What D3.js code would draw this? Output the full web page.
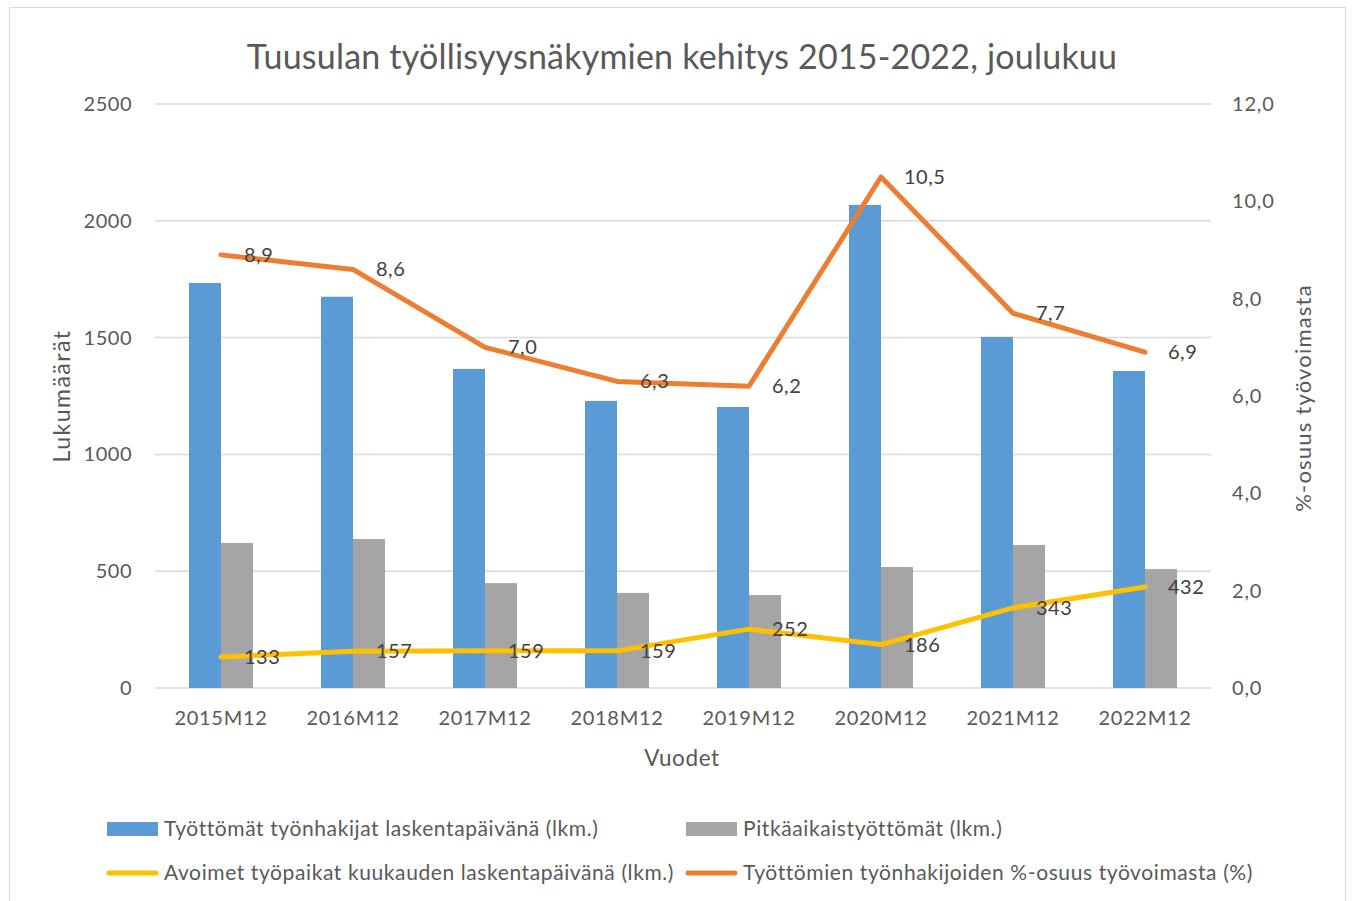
<!DOCTYPE html>
<html>
<head>
<meta charset="utf-8">
<script src="https://cdn.jsdelivr.net/npm/d3@7"></script>
<style>
  body { margin: 0; background: #fff; }
  svg { font-family: Lato, "Open Sans", sans-serif; }
</style>
</head>
<body>
<svg id="chart" width="1354" height="901"></svg>
<script>
// data
const years = ["2015M12", "2016M12", "2017M12", "2018M12", "2019M12", "2020M12", "2021M12", "2022M12"];
const unemployed = [1734, 1675, 1366, 1229, 1203, 2068, 1503, 1357];
const longTerm = [621, 638, 449, 407, 398, 518, 612, 509];
const vacancies = [133, 157, 159, 159, 252, 186, 343, 432];
const unemploymentRate = [8.9, 8.6, 7.0, 6.3, 6.2, 10.5, 7.7, 6.9];

const leftTicks = [0, 500, 1000, 1500, 2000, 2500];
const rightTicks = [0, 2, 4, 6, 8, 10, 12];

const seriesNames = [
  "Työttömät työnhakijat laskentapäivänä (lkm.)",
  "Pitkäaikaistyöttömät (lkm.)",
  "Avoimet työpaikat kuukauden laskentapäivänä (lkm.)",
  "Työttömien työnhakijoiden %-osuus työvoimasta (%)"
];
const colors = ["#5B9BD5", "#A5A5A5", "#FFC000", "#ED7D31"];

const svg = d3.select("#chart");
const fmt = d => d.toFixed(1).replace(".", ",");

// plot area
const margin = { left: 155, right: 1211, top: 104, bottom: 688 };

// chart border
svg.append("rect")
  .attr("x", 9.5).attr("y", 7.5)
  .attr("width", 1336).attr("height", 900)
  .attr("fill", "none")
  .attr("stroke", "#d9d9d9");

const x = d3.scaleBand().domain(years).range([margin.left, margin.right]).paddingInner(0.515).paddingOuter(0.2575);
const xc = d => x(d) + x.bandwidth() / 2;
const yL = d3.scaleLinear().domain([0, 2500]).range([margin.bottom, margin.top]);
const yR = d3.scaleLinear().domain([0, 12]).range([margin.bottom, margin.top]);

// title
svg.append("text")
  .attr("x", 682).attr("y", 69)
  .attr("text-anchor", "middle")
  .attr("fill", "#595959")
  .style("font-size", "34px")
  .style("letter-spacing", "0.2px")
  .text("Tuusulan työllisyysnäkymien kehitys 2015-2022, joulukuu");

// gridlines
svg.append("g")
  .selectAll("line")
  .data(leftTicks)
  .join("line")
  .attr("x1", margin.left).attr("x2", margin.right)
  .attr("y1", d => yL(d)).attr("y2", d => yL(d))
  .attr("stroke", "#d9d9d9")
  .attr("stroke-width", 1.5);

function styleTicks(g, size, spacing) {
  g.select(".domain").remove();
  g.selectAll("text")
    .attr("fill", "#595959")
    .style("font-size", size + "px")
    .style("font-family", "Lato")
    .style("letter-spacing", spacing + "px");
}

// left axis
svg.append("g")
  .attr("transform", `translate(${margin.left},0)`)
  .call(d3.axisLeft(yL).tickValues(leftTicks).tickSize(0).tickPadding(23).tickFormat(d3.format("d")))
  .call(styleTicks, 20, 0.5);

// right axis
svg.append("g")
  .attr("transform", `translate(${margin.right},0)`)
  .call(d3.axisRight(yR).tickValues(rightTicks).tickSize(0).tickPadding(21).tickFormat(fmt))
  .call(styleTicks, 20, 0.8);

// bottom axis
svg.append("g")
  .attr("transform", `translate(0,${margin.bottom})`)
  .call(d3.axisBottom(x).tickSize(0).tickPadding(23))
  .call(styleTicks, 20, 0.7);

// axis titles
svg.append("text")
  .attr("transform", "translate(70,396) rotate(-90)")
  .attr("text-anchor", "middle")
  .attr("fill", "#595959")
  .style("font-size", "23px")
  .style("letter-spacing", "1.5px")
  .text("Lukumäärät");
svg.append("text")
  .attr("transform", "translate(1311,398) rotate(-90)")
  .attr("text-anchor", "middle")
  .attr("fill", "#595959")
  .style("font-size", "22px")
  .style("letter-spacing", "1.2px")
  .text("%-osuus työvoimasta");
svg.append("text")
  .attr("x", 682).attr("y", 766)
  .attr("text-anchor", "middle")
  .attr("fill", "#595959")
  .style("font-size", "22.5px")
  .style("letter-spacing", "0.6px")
  .text("Vuodet");

// bars
const bw = x.bandwidth() / 2;
svg.append("g").selectAll("rect")
  .data(unemployed)
  .join("rect")
  .attr("x", (d, i) => x(years[i]))
  .attr("y", d => yL(d))
  .attr("width", bw)
  .attr("height", d => yL(0) - yL(d))
  .attr("fill", colors[0]);
svg.append("g").selectAll("rect")
  .data(longTerm)
  .join("rect")
  .attr("x", (d, i) => x(years[i]) + bw)
  .attr("y", d => yL(d))
  .attr("width", bw)
  .attr("height", d => yL(0) - yL(d))
  .attr("fill", colors[1]);

// lines
const vacLine = d3.line().x((d, i) => xc(years[i])).y(d => yL(d));
const rateLine = d3.line().x((d, i) => xc(years[i])).y(d => yR(d));

svg.append("path")
  .datum(vacancies)
  .attr("d", vacLine)
  .attr("fill", "none")
  .attr("stroke", colors[2])
  .attr("stroke-width", 5)
  .attr("stroke-linecap", "round")
  .attr("stroke-linejoin", "round");
svg.append("path")
  .datum(unemploymentRate)
  .attr("d", rateLine)
  .attr("fill", "none")
  .attr("stroke", colors[3])
  .attr("stroke-width", 5)
  .attr("stroke-linecap", "round")
  .attr("stroke-linejoin", "round");

// data labels
svg.append("g").selectAll("text")
  .data(vacancies)
  .join("text")
  .attr("x", (d, i) => xc(years[i]) + 23)
  .attr("y", d => yL(d))
  .attr("dy", "0.35em")
  .attr("fill", "#404040")
  .style("font-size", "20px")
  .style("letter-spacing", "0.5px")
  .text(d => d);
svg.append("g").selectAll("text")
  .data(unemploymentRate)
  .join("text")
  .attr("x", (d, i) => xc(years[i]) + 23)
  .attr("y", d => yR(d))
  .attr("dy", "0.35em")
  .attr("fill", "#404040")
  .style("font-size", "20px")
  .style("letter-spacing", "0.5px")
  .text(fmt);

// legend
const legendItems = [
  { name: seriesNames[0], color: colors[0], type: "rect", x: 107, y: 829 },
  { name: seriesNames[1], color: colors[1], type: "rect", x: 686, y: 829 },
  { name: seriesNames[2], color: colors[2], type: "line", x: 107, y: 873 },
  { name: seriesNames[3], color: colors[3], type: "line", x: 686, y: 873 }
];
const legend = svg.append("g").selectAll("g")
  .data(legendItems)
  .join("g")
  .attr("transform", d => `translate(${d.x},${d.y})`);
legend.filter(d => d.type === "rect").append("rect")
  .attr("x", 0).attr("y", -7).attr("width", 51).attr("height", 14)
  .attr("fill", d => d.color);
legend.filter(d => d.type === "line").append("line")
  .attr("x1", 2).attr("x2", 49).attr("y1", 0).attr("y2", 0)
  .attr("stroke", d => d.color)
  .attr("stroke-width", 5)
  .attr("stroke-linecap", "round");
legend.append("text")
  .attr("x", 57).attr("y", 0).attr("dy", "0.35em")
  .attr("fill", "#595959")
  .style("font-size", "21px")
  .style("letter-spacing", "0.6px")
  .text(d => d.name);
</script>
</body>
</html>
